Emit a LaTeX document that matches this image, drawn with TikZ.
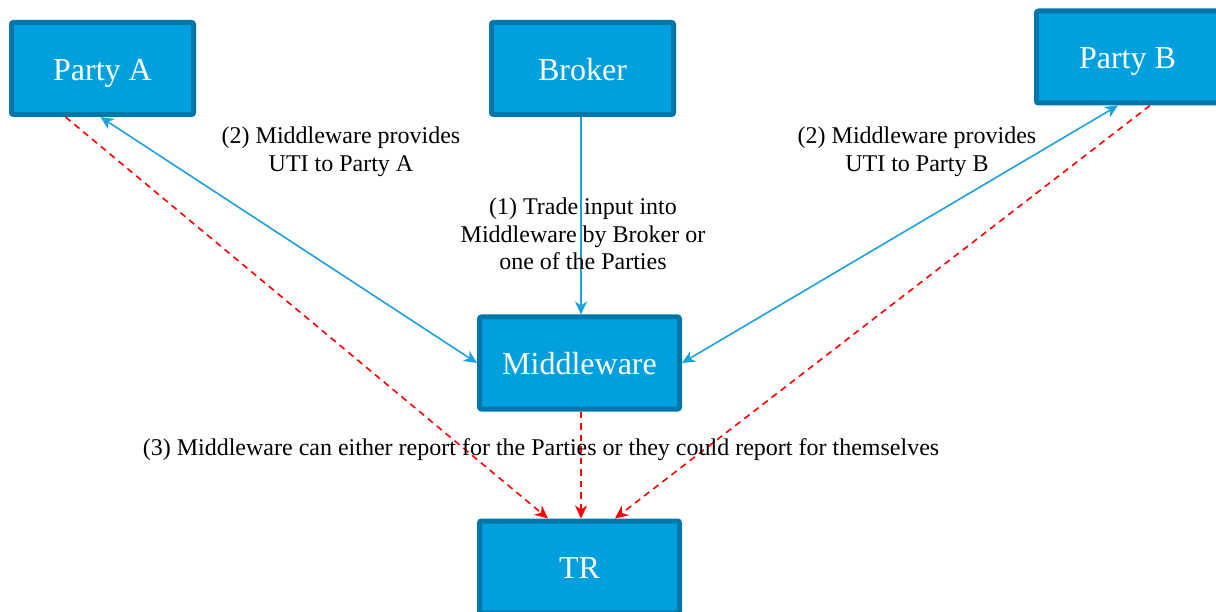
\documentclass[tikz,border=0pt]{standalone}
\usepackage{fontspec}
\setmainfont{Liberation Serif}
\usetikzlibrary{arrows.meta,calc}
\definecolor{boxfill}{HTML}{00A0DF}
\definecolor{boxline}{HTML}{0077A8}
\definecolor{linkblue}{HTML}{1BA1DC}
\definecolor{rptred}{HTML}{FF0000}
\tikzset{
  >={Stealth[length=13pt,width=12pt,inset=4pt]},
  entity/.style={draw=boxline, fill=boxfill, line width=5pt, rounded corners=2pt,
    minimum width=182pt, minimum height=92pt, text=white, inner sep=0pt,
    text height=23.5pt, text depth=0pt,
    font=\fontsize{32}{38}\selectfont},
  widebox/.style={entity, minimum width=200pt},
  lbl/.style={align=center, font=\fontsize{24}{27.5}\selectfont, inner sep=0pt},
  link/.style={draw=linkblue, line width=1.6pt},
  report/.style={draw=rptred, line width=1.6pt, dash pattern=on 6.5pt off 5pt}
}
\begin{document}
\begin{tikzpicture}[x=1pt,y=-1pt]
\useasboundingbox (0,0) rectangle (1216,612);
\clip (0,0) rectangle (1216,612);
\node[entity] (pa) at (102.5,68.5) {Party A};
\node[entity] (br) at (582.5,68.5) {Broker};
\node[entity] (pb) at (1127.5,57) {Party B};
\node[widebox] (mw) at (579.5,363) {Middleware};
\node[widebox] (tr) at (579.5,567) {TR};

\coordinate (brb) at ([xshift=-1.5pt]br.south);
\coordinate (mwt) at ([xshift=1.5pt]mw.north);
\draw[link,->] (brb) -- (mwt);
\draw[link,<->] ([xshift=-2pt]pa.south) -- (mw.west);
\draw[link,<->] ([xshift=-9.5pt]pb.south) -- (mw.east);

\draw[report,->] ([xshift=-37pt]pa.south) -- ([xshift=-31.5pt]tr.north);
\draw[report,->] ([xshift=1.5pt]mw.south) -- ([xshift=1.5pt]tr.north);
\draw[report,->] ([xshift=22.5pt]pb.south) -- ([xshift=35.5pt]tr.north);

\node[lbl] (l2a) at (341,152) {(2) Middleware provides\\UTI to Party A};
\node[lbl] (l2b) at (917,152) {(2) Middleware provides\\UTI to Party B};
\node[lbl] (l1) at (583,234) {(1) Trade input into\\Middleware by Broker or\\one of the Parties};
\node[lbl] (l3) at (541,450) {(3) Middleware can either report for the Parties or they could report for themselves};
\end{tikzpicture}
\end{document}
